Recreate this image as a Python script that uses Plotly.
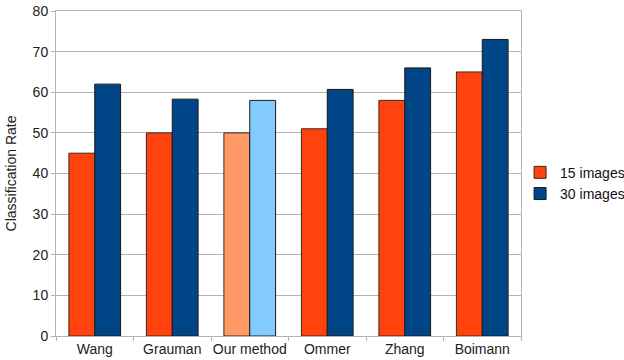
import plotly.graph_objects as go

methods = ["Wang", "Grauman", "Our method", "Ommer", "Zhang", "Boimann"]
rate_15 = [45, 50, 50, 51, 58, 65]
rate_30 = [62, 58.3, 58, 60.7, 66, 73]

red, blue = "#FF420E", "#004586"
red_hl, blue_hl = "#FF9966", "#83CAFF"
highlight = "Our method"

colors_15 = [red_hl if m == highlight else red for m in methods]
colors_30 = [blue_hl if m == highlight else blue for m in methods]

font = "Liberation Sans, Arial, sans-serif"

fig = go.Figure()
fig.add_trace(go.Bar(x=methods, y=rate_15, name="15 images",
                     marker=dict(color=colors_15, line=dict(color="#3a2a20", width=1))))
fig.add_trace(go.Bar(x=methods, y=rate_30, name="30 images",
                     marker=dict(color=colors_30, line=dict(color="#1a1a1a", width=1))))

fig.update_layout(
    width=624, height=360,
    margin=dict(l=56, r=103, t=11, b=24, autoexpand=False),
    paper_bgcolor="white", plot_bgcolor="white",
    barmode="group", bargap=0.333, bargroupgap=0,
    font=dict(family=font, size=14, color="#333333"),
    showlegend=True,
    legend=dict(x=0.998, y=0.47, xanchor="left", yanchor="middle",
                bgcolor="rgba(0,0,0,0)",
                font=dict(size=14, color="#111111"), tracegroupgap=0,
                itemwidth=30),
    xaxis=dict(showline=True, linecolor="#b3b3b3", linewidth=1, mirror=True,
               ticks="outside", tickson="boundaries", ticklen=4, tickcolor="#b3b3b3",
               tickangle=0, automargin=False,
               tickfont=dict(size=14, color="#222222")),
    yaxis=dict(range=[0, 80], dtick=10, showline=True, linecolor="#b3b3b3",
               linewidth=1, mirror=True, ticks="outside", ticklen=4,
               tickcolor="#b3b3b3", gridcolor="#b3b3b3", gridwidth=1,
               zeroline=False, automargin=False,
               tickfont=dict(size=14, color="#222222"),
               title=dict(text="Classification Rate", standoff=12,
                          font=dict(size=14, color="#222222"))),
)

fig.write_html("out.html")
